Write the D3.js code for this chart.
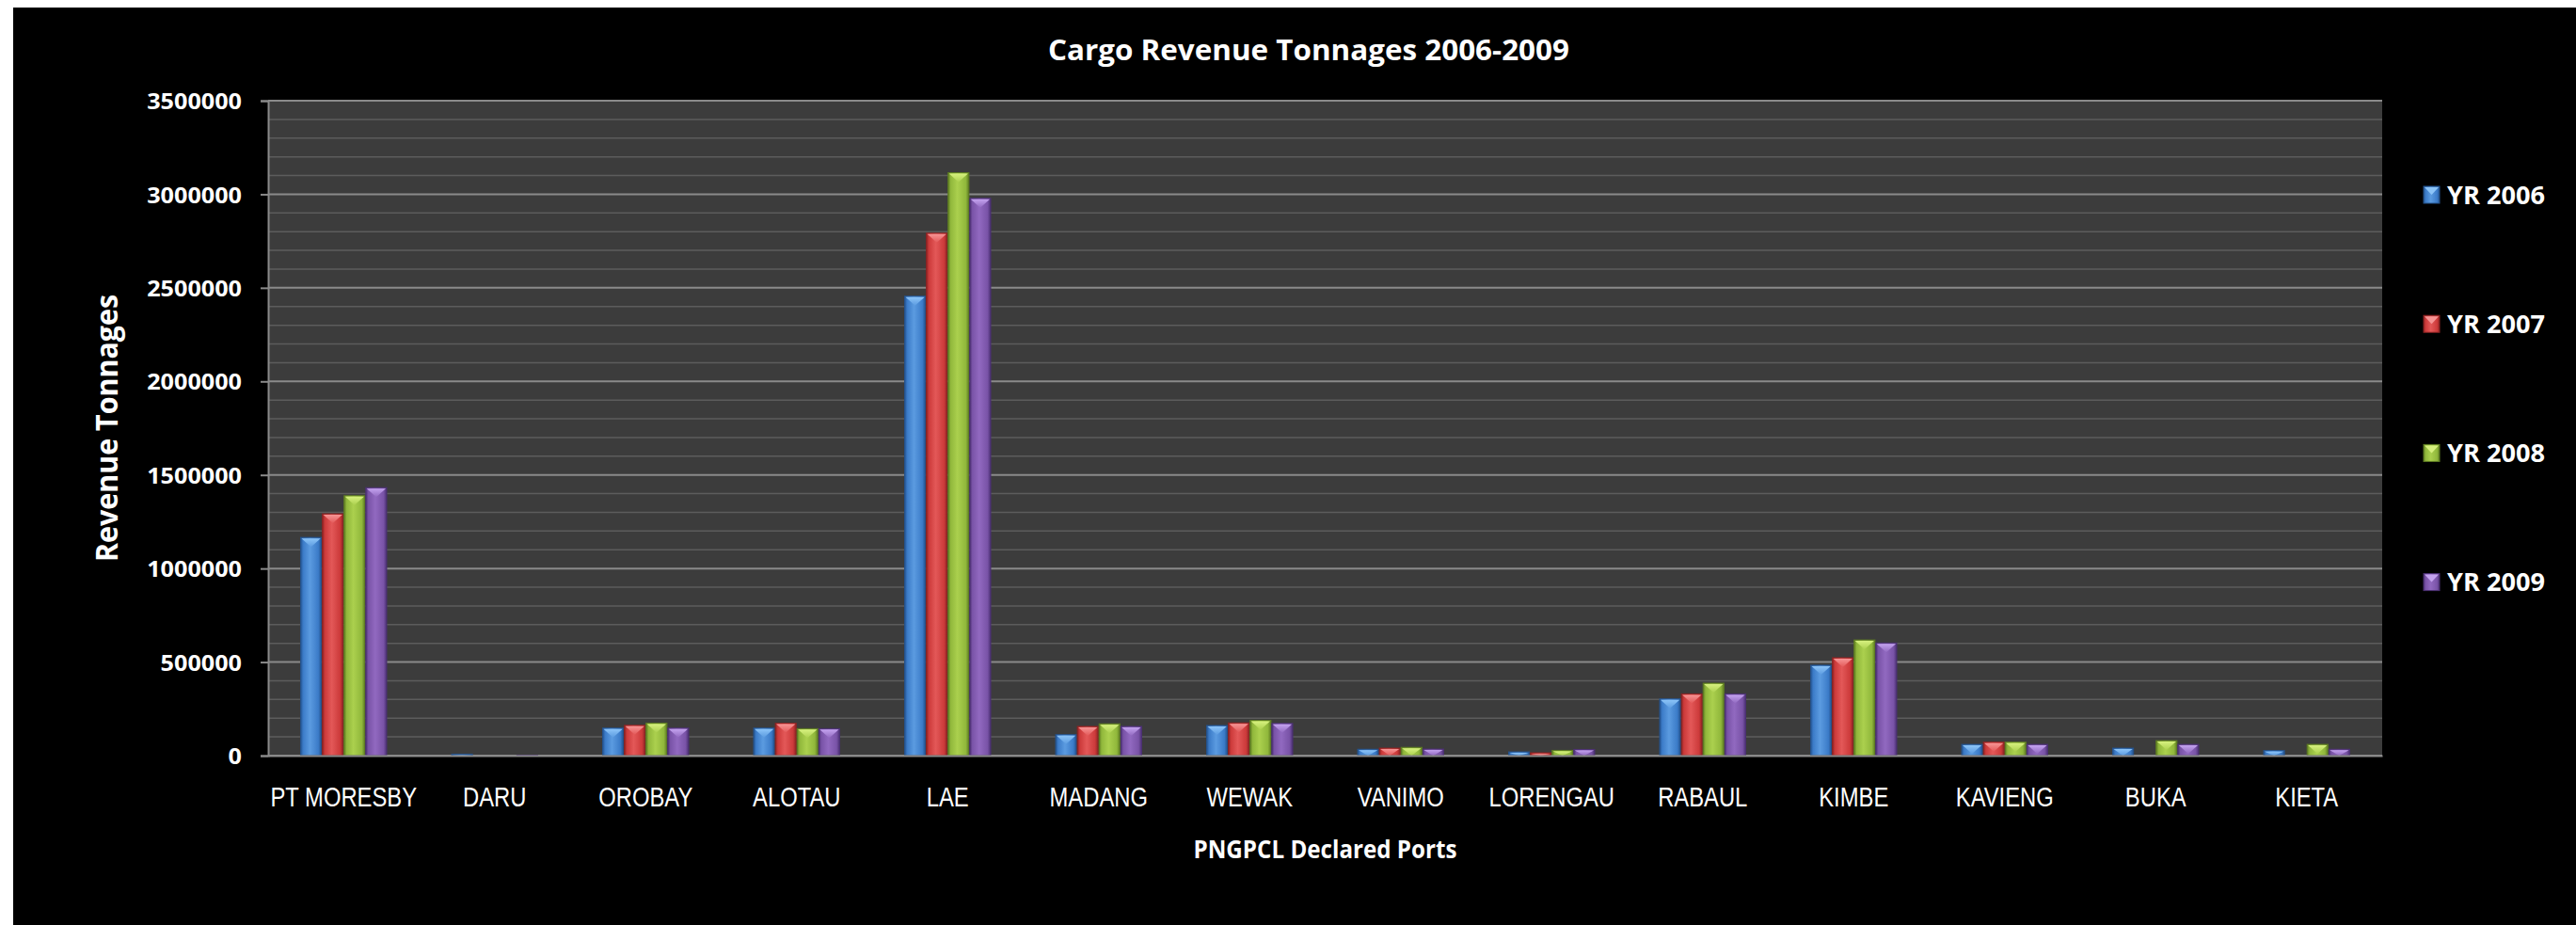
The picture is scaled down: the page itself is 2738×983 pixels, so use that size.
<!DOCTYPE html>
<html>
<head>
<meta charset="utf-8">
<title>Cargo Revenue Tonnages 2006-2009</title>
<script src="https://cdnjs.cloudflare.com/ajax/libs/d3/7.8.5/d3.min.js"></script>
<style>
  html, body { margin: 0; padding: 0; background: #fff; }
  svg { display: block; }
</style>
</head>
<body>
<svg id="chart"></svg>
<script>
// ── data ─────────────────────────────────────────────────────────
const ports = ["PT MORESBY", "DARU", "OROBAY", "ALOTAU", "LAE", "MADANG", "WEWAK",
               "VANIMO", "LORENGAU", "RABAUL", "KIMBE", "KAVIENG", "BUKA", "KIETA"];
const seriesNames = ["YR 2006", "YR 2007", "YR 2008", "YR 2009"];

const yr2006 = [1166000, 8000, 147000, 147000, 2455000, 112000, 161000, 34000, 20000, 303000, 483000, 60000, 40000, 27000];
const yr2007 = [1292000, 0, 162000, 173000, 2792000, 156000, 175000, 40000, 15000, 330000, 523000, 72000, 0, 0];
const yr2008 = [1389000, 0, 174000, 144000, 3115000, 170000, 188000, 44000, 28000, 387000, 618000, 72000, 80000, 60000];
const yr2009 = [1432000, 2000, 147000, 144000, 2978000, 156000, 172000, 35000, 33000, 330000, 602000, 60000, 60000, 34000];

const yMajorTicks = [0, 500000, 1000000, 1500000, 2000000, 2500000, 3000000, 3500000];
const yMinorStep = 100000;

const chartTitle = "Cargo Revenue Tonnages 2006-2009";
const xTitle = "PNGPCL Declared Ports";
const yTitle = "Revenue Tonnages";

// ── layout ───────────────────────────────────────────────────────
const width = 2738, height = 983;
const plot = { left: 285, right: 2532, top: 107, bottom: 803 };

// shades per series: edge, body, highlight, bevel top
const palette = [
    { dark: "#24528c", base: "#3b7bc8", light: "#5b9be0", top: "#8cc4f8" },
    { dark: "#8c2323", base: "#cc3a3a", light: "#e35858", top: "#f69494" },
    { dark: "#5e7c22", base: "#90b73b", light: "#abd04e", top: "#d6f07e" },
    { dark: "#4c3174", base: "#7953a7", light: "#9169c0", top: "#c3a2ee" }
];

const table = ports.map((p, i) => ({
    port: p,
    values: [yr2006[i], yr2007[i], yr2008[i], yr2009[i]]
}));

const svg = d3.select("#chart")
    .attr("width", width)
    .attr("height", height);

// black chart area
svg.append("rect")
    .attr("x", 14).attr("y", 8)
    .attr("width", width - 14).attr("height", height - 8)
    .attr("fill", "#000");

// gradients for the bevelled bars
const defs = svg.append("defs");
palette.forEach((c, i) => {
    const g = defs.append("linearGradient")
        .attr("id", "bar" + i)
        .attr("x1", "0%").attr("x2", "100%")
        .attr("y1", "0%").attr("y2", "0%");
    [[0, c.dark], [0.12, c.base], [0.45, c.light], [0.85, c.base], [1, c.dark]]
        .forEach(([o, col]) => g.append("stop").attr("offset", o).attr("stop-color", col));
    const t = defs.append("linearGradient")
        .attr("id", "top" + i)
        .attr("x1", "0%").attr("x2", "0%")
        .attr("y1", "0%").attr("y2", "100%");
    t.append("stop").attr("offset", 0).attr("stop-color", c.top);
    t.append("stop").attr("offset", 1).attr("stop-color", c.light);
});

// scales
const x0 = d3.scaleBand()
    .domain(ports)
    .range([plot.left, plot.right])
    .paddingInner(0.43)
    .paddingOuter(0.215);

const x1 = d3.scaleBand()
    .domain(d3.range(seriesNames.length))
    .range([0, x0.bandwidth()])
    .paddingInner(0.04);

const y = d3.scaleLinear()
    .domain([0, 3500000])
    .range([plot.bottom, plot.top]);

// plot background
svg.append("rect")
    .attr("x", plot.left).attr("y", plot.top)
    .attr("width", plot.right - plot.left)
    .attr("height", plot.bottom - plot.top)
    .attr("fill", "#3c3c3c");

// minor gridlines
const minor = d3.range(0, 3500000 + 1, yMinorStep).filter(v => v % 500000 !== 0);
svg.append("g").selectAll("line")
    .data(minor)
    .enter().append("line")
    .attr("x1", plot.left).attr("x2", plot.right)
    .attr("y1", d => y(d)).attr("y2", d => y(d))
    .attr("stroke", "#5c5c5c")
    .attr("stroke-width", 1.5);

// major gridlines
svg.append("g").selectAll("line")
    .data(yMajorTicks)
    .enter().append("line")
    .attr("x1", plot.left).attr("x2", plot.right)
    .attr("y1", d => y(d)).attr("y2", d => y(d))
    .attr("stroke", "#8a8a8a")
    .attr("stroke-width", 2);

// bars
const groups = svg.append("g").selectAll("g.port")
    .data(table)
    .enter().append("g")
    .attr("class", "port")
    .attr("transform", d => `translate(${x0(d.port)},0)`);

const bars = groups.selectAll("g.bar")
    .data(d => d.values.map((v, i) => ({ v, i })).filter(b => b.v > 0))
    .enter().append("g")
    .attr("class", "bar");

bars.append("rect")
    .attr("x", d => x1(d.i))
    .attr("y", d => y(d.v))
    .attr("width", x1.bandwidth())
    .attr("height", d => y(0) - y(d.v))
    .attr("fill", d => `url(#bar${d.i})`)
    .attr("stroke", d => palette[d.i].dark)
    .attr("stroke-width", 1);

// bevel chevron on top of each bar
bars.append("path")
    .attr("d", d => {
        const xa = x1(d.i) + 1, xb = x1(d.i) + x1.bandwidth() - 1;
        const top = y(d.v) + 1;
        const h = Math.min(9, y(0) - y(d.v) - 1);
        return `M${xa},${top}L${xb},${top}L${(xa + xb) / 2},${top + h}Z`;
    })
    .attr("fill", d => `url(#top${d.i})`);

// y axis
const yAxis = svg.append("g")
    .attr("transform", `translate(${plot.left},0)`)
    .call(d3.axisLeft(y).tickValues(yMajorTicks).tickSize(8).tickPadding(20).tickFormat(d3.format("d")));
yAxis.select(".domain").attr("stroke", "#8a8a8a").attr("stroke-width", 2);
yAxis.selectAll(".tick line").attr("stroke", "#8a8a8a").attr("stroke-width", 2);
yAxis.selectAll(".tick text")
    .attr("fill", "#fff")
    .attr("font-family", "'Open Sans', sans-serif")
    .attr("font-weight", 700)
    .attr("font-size", 24)
    .attr("dy", "0.36em")
    .attr("textLength", d => String(d).length * 14.4)
    .attr("lengthAdjust", "spacingAndGlyphs");

// x axis (narrow face: squeeze a regular sans to ~82% width)
const xAxis = svg.append("g")
    .attr("transform", `translate(0,${plot.bottom})`)
    .call(d3.axisBottom(x0).tickSize(0).tickPadding(0));
xAxis.select(".domain").attr("stroke", "#8a8a8a").attr("stroke-width", 2);
xAxis.selectAll(".tick text")
    .attr("fill", "#fff")
    .attr("font-family", "'Liberation Sans', Arial, sans-serif")
    .attr("font-size", 29)
    .attr("y", 54)
    .attr("dy", 0)
    .each(function () {
        const w = this.getComputedTextLength();
        d3.select(this)
            .attr("textLength", w * 0.82)
            .attr("lengthAdjust", "spacingAndGlyphs");
    });

// titles
svg.append("text")
    .attr("x", 1391).attr("y", 64)
    .attr("text-anchor", "middle")
    .attr("fill", "#fff")
    .attr("font-family", "'Open Sans', sans-serif")
    .attr("font-weight", 700)
    .attr("font-size", 31)
    .attr("textLength", 554)
    .attr("lengthAdjust", "spacingAndGlyphs")
    .text(chartTitle);

svg.append("text")
    .attr("x", (plot.left + plot.right) / 2).attr("y", 912)
    .attr("text-anchor", "middle")
    .attr("fill", "#fff")
    .attr("font-family", "'Open Sans', sans-serif")
    .attr("font-weight", 700)
    .attr("font-size", 27)
    .attr("textLength", 280)
    .attr("lengthAdjust", "spacingAndGlyphs")
    .text(xTitle);

svg.append("text")
    .attr("transform", `translate(125,${(plot.top + plot.bottom) / 2}) rotate(-90)`)
    .attr("text-anchor", "middle")
    .attr("fill", "#fff")
    .attr("font-family", "'Open Sans', sans-serif")
    .attr("font-weight", 700)
    .attr("font-size", 32)
    .attr("textLength", 284)
    .attr("lengthAdjust", "spacingAndGlyphs")
    .text(yTitle);

// legend
const legend = svg.append("g").selectAll("g")
    .data(seriesNames)
    .enter().append("g")
    .attr("transform", (d, i) => `translate(2576,${207 + i * 137.2})`);

legend.append("rect")
    .attr("x", 0).attr("y", -9)
    .attr("width", 17).attr("height", 18)
    .attr("fill", (d, i) => `url(#bar${i})`)
    .attr("stroke", (d, i) => palette[i].dark)
    .attr("stroke-width", 1);

legend.append("path")
    .attr("d", "M1,-8L16,-8L8.5,0Z")
    .attr("fill", (d, i) => palette[i].top);

legend.append("text")
    .attr("x", 25).attr("y", 9.5)
    .attr("fill", "#fff")
    .attr("font-family", "'Open Sans', sans-serif")
    .attr("font-weight", 700)
    .attr("font-size", 27)
    .attr("textLength", 104)
    .attr("lengthAdjust", "spacingAndGlyphs")
    .text(d => d);
</script>
</body>
</html>
